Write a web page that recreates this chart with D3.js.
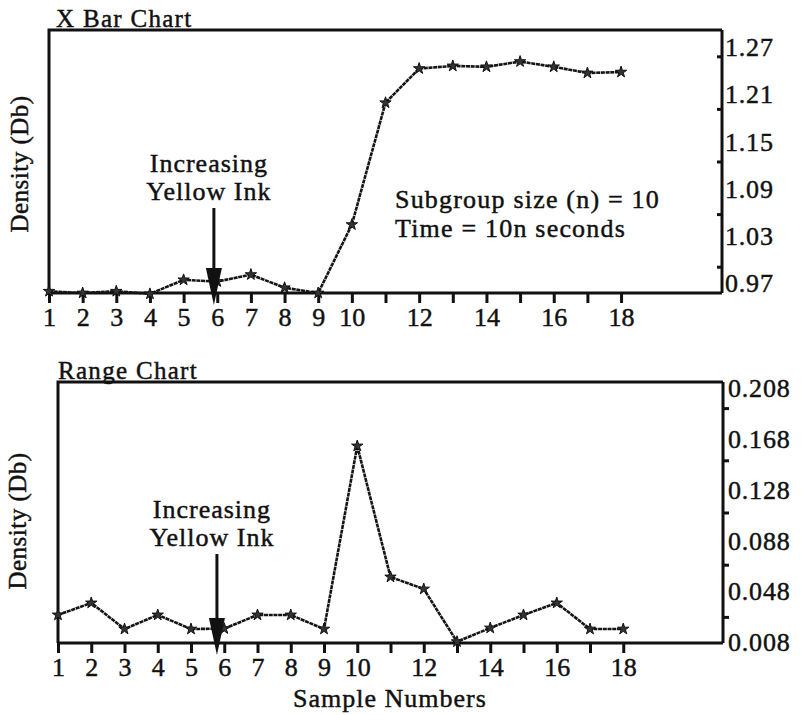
<!DOCTYPE html>
<html>
<head>
<meta charset="utf-8">
<script src="https://cdn.jsdelivr.net/npm/d3@7/dist/d3.min.js"></script>
<style>
  body { margin: 0; background: #fff; }
  text { font-family: "Liberation Serif", "Times New Roman", serif; fill: #111; stroke: #111; stroke-width: 0.45px; }
</style>
</head>
<body>
<div id="graph"></div>
<script>
// sample numbers on the x axis
var samples = d3.range(1, 19);
var sampleLabels = [1, 2, 3, 4, 5, 6, 7, 8, 9, 10, 12, 14, 16, 18];

// X bar chart (mean density per subgroup)
var xbarValues = [0.972, 0.970, 0.972, 0.969, 0.985, 0.983, 0.991, 0.976, 0.970,
                  1.048, 1.187, 1.226, 1.229, 1.228, 1.234, 1.228, 1.221, 1.222];
var xbarTicks = [0.97, 1.03, 1.09, 1.15, 1.21, 1.27];
var xbarMinor = [1.00, 1.06, 1.12, 1.18, 1.24];

// range chart
var rangeValues = [0.0295, 0.0387, 0.0187, 0.0295, 0.0187, 0.0190, 0.0295, 0.0295, 0.0187,
                   0.159, 0.0586, 0.0494, 0.009, 0.0195, 0.0295, 0.0387, 0.0187, 0.0187];
var rangeTicks = [0.008, 0.048, 0.088, 0.128, 0.168, 0.208];
var rangeMinor = [0.028, 0.068, 0.108, 0.148, 0.188];

var svg = d3.select("#graph").append("svg")
    .attr("width", 806)
    .attr("height", 715);

function drawChart(opt) {
    var width = opt.width, height = opt.height;

    var g = svg.append("g")
        .attr("transform", "translate(" + opt.left + "," + opt.top + ")");

    var x = d3.scaleLinear().domain([1, 21]).range([0, width]);
    var y = d3.scaleLinear().domain(opt.domain).range([height, 0]);

    // title above the frame
    g.append("text")
        .attr("x", opt.titleX)
        .attr("y", -3)
        .style("font-size", "25px")
        .style("letter-spacing", "1.3px")
        .text(opt.title);

    // y label
    g.append("text")
        .attr("transform", "translate(" + opt.ylabX + "," + opt.ylabY + ") rotate(-90)")
        .attr("text-anchor", "middle")
        .style("font-size", "25px")
        .style("letter-spacing", "0.5px")
        .text("Density (Db)");

    // frame: top and left
    g.append("path")
        .attr("d", "M0," + height + "V0H" + width)
        .attr("fill", "none")
        .attr("stroke", "#111")
        .attr("stroke-width", 3);

    // x axis
    var xAxis = g.append("g")
        .attr("transform", "translate(0," + height + ")")
        .call(d3.axisBottom(x)
            .tickValues(samples)
            .tickSize(10)
            .tickPadding(5)
            .tickFormat(function (d) { return sampleLabels.indexOf(d) >= 0 ? d : ""; }));
    xAxis.select(".domain").attr("stroke", "#111").attr("stroke-width", 3)
        .attr("d", "M0,0H" + width);
    xAxis.selectAll(".tick line").attr("stroke", "#111").attr("stroke-width", 3);
    xAxis.selectAll(".tick text")
        .style("font-family", "'Liberation Serif', serif")
        .style("font-size", "26px")
        .attr("fill", "#111");

    // right axis
    var yAxis = g.append("g")
        .attr("transform", "translate(" + width + ",0)")
        .call(d3.axisRight(y)
            .tickValues(opt.minor)
            .tickSize(opt.minorSize)
            .tickFormat(""));
    yAxis.select(".domain").attr("stroke", "#111").attr("stroke-width", 3)
        .attr("d", "M0,0V" + height);
    yAxis.selectAll(".tick line").attr("stroke", "#111").attr("stroke-width", 3);

    // tick labels, squeezed inside the axis ends like the original
    var labelY = d3.scaleLinear().domain(opt.domain).range(opt.labelRange);
    yAxis.selectAll(".ylab")
        .data(opt.ticks)
        .enter().append("text")
        .attr("class", "ylab")
        .attr("x", opt.labelX)
        .attr("y", function (d) { return labelY(d); })
        .attr("dy", "0.35em")
        .style("font-size", "26px")
        .style("letter-spacing", "0.8px")
        .text(function (d) { return d.toFixed(opt.digits); });

    // the series line
    var line = d3.line()
        .x(function (d, i) { return x(samples[i]); })
        .y(function (d) { return y(d); });

    g.append("path")
        .datum(opt.values)
        .attr("fill", "none")
        .attr("stroke", "#151515")
        .attr("stroke-width", 2.6)
        .attr("stroke-dasharray", "4,0.7")
        .attr("d", line);

    g.selectAll(".dot")
        .data(opt.values)
        .enter().append("path")
        .attr("class", "dot")
        .attr("transform", function (d, i) { return "translate(" + x(samples[i]) + "," + y(d) + ")"; })
        .attr("d", d3.symbol().type(d3.symbolStar).size(40))
        .attr("fill", "#333")
        .attr("stroke", "#111")
        .attr("stroke-width", 1);

    // arrow annotation
    var ax = x(opt.arrowAt);
    g.append("text")
        .attr("x", ax - 5)
        .attr("y", opt.noteY)
        .attr("text-anchor", "middle")
        .style("font-size", "26px")
        .style("letter-spacing", "1px")
        .text("Increasing");
    g.append("text")
        .attr("x", ax - 5)
        .attr("y", opt.noteY + 28)
        .attr("text-anchor", "middle")
        .style("font-size", "26px")
        .style("letter-spacing", "1px")
        .text("Yellow Ink");
    g.append("line")
        .attr("x1", ax).attr("x2", ax)
        .attr("y1", opt.noteY + 36)
        .attr("y2", height - 24)
        .attr("stroke", "#111")
        .attr("stroke-width", 3);
    g.append("path")
        .attr("d", "M" + (ax - 8) + "," + (height - 25) + "L" + (ax + 8) + "," + (height - 25) +
            "L" + ax + "," + (height + 12) + "Z")
        .attr("fill", "#111");

    return g;
}

var xbarChart = drawChart({
    left: 49, top: 30, width: 673, height: 263,
    title: "X Bar Chart", titleX: 7,
    ylabX: -21, ylabY: 134,
    domain: [0.97, 1.27],
    ticks: xbarTicks, minor: xbarMinor, minorSize: -5,
    labelRange: [253, 17], labelX: 3, digits: 2,
    values: xbarValues,
    arrowAt: 5.9, noteY: 142
});

xbarChart.append("text")
    .attr("x", 346)
    .attr("y", 178)
    .style("font-size", "26px")
    .style("letter-spacing", "1.2px")
    .text("Subgroup size (n) = 10");
xbarChart.append("text")
    .attr("x", 346)
    .attr("y", 207)
    .style("font-size", "26px")
    .style("letter-spacing", "1.2px")
    .text("Time = 10n seconds");

var rangeChart = drawChart({
    left: 58, top: 382, width: 665, height: 261,
    title: "Range Chart", titleX: 0,
    ylabX: -32, ylabY: 139,
    domain: [0.008, 0.208],
    ticks: rangeTicks, minor: rangeMinor, minorSize: 6,
    labelRange: [260, 6], labelX: 5, digits: 3,
    values: rangeValues,
    arrowAt: 5.78, noteY: 136
});

rangeChart.append("text")
    .attr("x", 332)
    .attr("y", 325)
    .attr("text-anchor", "middle")
    .style("font-size", "26px")
    .style("letter-spacing", "1px")
    .text("Sample Numbers");
</script>
</body>
</html>
